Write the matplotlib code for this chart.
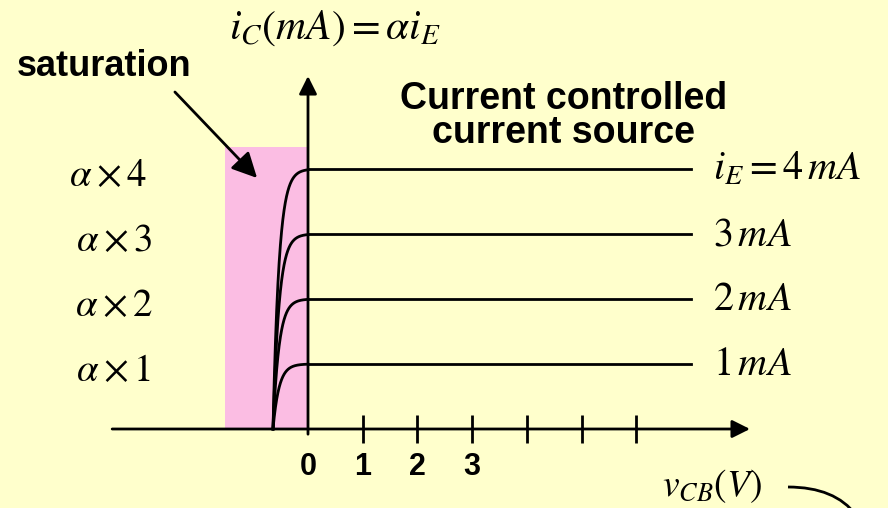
import numpy as np
import matplotlib.pyplot as plt
from matplotlib.patches import Rectangle, FancyArrowPatch, PathPatch
from matplotlib.path import Path

plt.rcParams['mathtext.fontset'] = 'stix'

# emitter currents (mA) and their labels
i_e = [1, 2, 3, 4]
i_e_labels = [r'$1\,mA$', r'$2\,mA$', r'$3\,mA$', r'$i_E = 4\,mA$']
ic_labels = [r'$\alpha\times1$', r'$\alpha\times2$', r'$\alpha\times3$', r'$\alpha\times4$']

# v_CB axis ticks (V)
v_ticks = [1, 2, 3, 4, 5, 6]
v_tick_labels = ['0', '1', '2', '3']

v_on = -0.64      # where the curves leave the v_CB axis
v_t = 0.11        # knee sharpness of the saturation curves
v_end = 7.0       # end of the active-region lines
v_sat = -1.52     # left edge of the saturation region
sat_top = 4.34    # height of the saturation shading (mA)

BG = '#FFFFCC'
PINK = '#FBBDE3'
W, H = 888, 508


def px(x, y):
    # pixel position (from top-left) -> figure fraction
    return (x / W, 1 - y / H)


fig = plt.figure(figsize=(W / 100, H / 100), dpi=100)
fig.patch.set_facecolor(BG)
ax = fig.add_axes([0, 0, 1, 1])
ax.set_facecolor(BG)
ax.set_xlim(-308 / 54.7, (W - 308) / 54.7)
ax.set_ylim((429 - H) / 65, 429 / 65)
ax.axis('off')

# saturation region
ax.add_patch(Rectangle((v_sat, 0), -v_sat, sat_top, color=PINK, lw=0, zorder=1))

# axes with arrowheads
head = dict(arrowstyle='-|>,head_length=0.4,head_width=0.2', mutation_scale=27,
            color='black', lw=2, shrinkA=0, shrinkB=0)
ax.annotate('', xy=(8.08, 0), xytext=(-3.58, 0), arrowprops=head, zorder=3)
ax.annotate('', xy=(0, 5.43), xytext=(0, -0.08), arrowprops=head, zorder=3)
ax.vlines(v_ticks, -0.22, 0.22, color='black', lw=2, zorder=3)

# output characteristics: saturation knee then flat active region
ic_x = [-3.55, -3.55, -3.55, -3.66]
for i, lab, ic, x in zip(i_e, i_e_labels, ic_labels, ic_x):
    v = np.linspace(v_on, 0, 200)
    ax.plot(v, i * (1 - np.exp(-(v - v_on) / v_t)), color='black', lw=2, zorder=4)
    ax.plot([0, v_end], [i, i], color='black', lw=2, zorder=4)
    ax.text(7.4, i, lab, fontsize=29, ha='left', va='center')
    ax.text(x, i - 0.1, ic, fontsize=28, ha='center', va='center')

for k, t in enumerate(v_tick_labels):
    ax.text(k, -0.58, t, fontsize=22, fontweight='bold', family='Liberation Sans',
            ha='center', va='center')

# axis titles
fig.text(*px(335, 27), r'$i_C\left(mA\right) = \alpha i_E$', fontsize=30,
         ha='center', va='center')
fig.text(*px(712, 486), r'$v_{CB}\left(V\right)$', fontsize=27,
         ha='center', va='center')

# annotations
fig.text(*px(104, 67), 'saturation', fontsize=26, fontweight='bold',
         family='Liberation Sans', ha='center', va='center')
fig.text(*px(564, 116), 'Current controlled\ncurrent source', fontsize=27,
         fontweight='bold', family='Liberation Sans', ha='center', va='center',
         linespacing=0.92)
fig.patches.append(FancyArrowPatch(px(173, 90), px(259, 180), transform=fig.transFigure,
                                   arrowstyle='-|>,head_length=0.4,head_width=0.2',
                                   mutation_scale=38, color='black', lw=2))

curve = Path([px(788, 487), px(835, 487), px(856, 515)],
             [Path.MOVETO, Path.CURVE3, Path.CURVE3])
fig.patches.append(PathPatch(curve, transform=fig.transFigure, fill=False,
                             color='black', lw=2))

fig.savefig('out.png', dpi=100, facecolor=BG)
